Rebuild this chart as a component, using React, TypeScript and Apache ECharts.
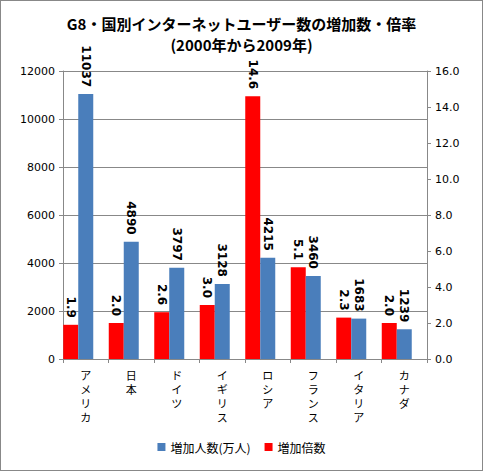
import * as echarts from 'echarts'
import { useEffect, useRef } from 'react'

const countries = ['アメリカ', '日本', 'ドイツ', 'イギリス', 'ロシア', 'フランス', 'イタリア', 'カナダ']
const increaseUsers = [11037, 4890, 3797, 3128, 4215, 3460, 1683, 1239]
const increaseRatio = [1.9, 2.0, 2.6, 3.0, 14.6, 5.1, 2.3, 2.0]
// empty third slot: keeps red+blue pair at the left of each category like the original
const spacer = [null, null, null, null, null, null, null, null]

const FONT = '"Noto Sans CJK JP", "Noto Sans", sans-serif'
const NUM_FONT = '"DejaVu Sans", Verdana, sans-serif'

export default function App() {
  const chartRef = useRef<HTMLDivElement>(null)

  useEffect(() => {
    if (!chartRef.current) return
    const chart = echarts.init(chartRef.current, null, { renderer: 'svg' })

    const barLabel = {
      show: true,
      position: 'top',
      rotate: -90,
      align: 'right',
      verticalAlign: 'middle',
      distance: 7,
      color: '#000',
      fontWeight: 'bold',
      fontSize: 12,
      fontFamily: NUM_FONT
    }

    const option: any = {
      animation: false,
      backgroundColor: '#fff',
      title: {
        text: 'G8・国別インターネットユーザー数の増加数・倍率\n(2000年から2009年)',
        left: 'center',
        top: 7,
        textStyle: {
          fontFamily: FONT,
          fontSize: 15,
          fontWeight: 'bold',
          color: '#000',
          lineHeight: 21
        }
      },
      legend: {
        bottom: 12,
        left: 'center',
        data: ['増加人数(万人)', '増加倍数'],
        itemWidth: 8,
        itemHeight: 8,
        itemGap: 14,
        icon: 'rect',
        textStyle: { fontFamily: FONT, fontSize: 12, color: '#000' }
      },
      grid: { left: 62, right: 55, top: 70, bottom: 111 },
      xAxis: {
        type: 'category',
        data: countries,
        axisLine: { lineStyle: { color: '#888' } },
        axisTick: { show: true, length: 4, lineStyle: { color: '#888' } },
        axisLabel: {
          interval: 0,
          margin: 10,
          fontFamily: '"DejaVu Sans", "Noto Sans CJK JP", sans-serif',
          fontSize: 11,
          lineHeight: 14,
          color: '#000',
          verticalAlign: 'top',
          formatter: (v: string) => v.split('').join('\n')
        }
      },
      yAxis: [
        {
          type: 'value',
          min: 0,
          max: 12000,
          interval: 2000,
          axisLine: { show: true, lineStyle: { color: '#888' } },
          axisTick: { show: true, length: 4, lineStyle: { color: '#888' } },
          splitLine: { lineStyle: { color: '#888' } },
          axisLabel: {
            fontFamily: NUM_FONT,
            fontSize: 11,
            color: '#000',
            margin: 8,
            formatter: (v: number) => String(v)
          }
        },
        {
          type: 'value',
          min: 0,
          max: 16,
          interval: 2,
          position: 'right',
          axisLine: { show: true, lineStyle: { color: '#888' } },
          axisTick: { show: true, length: 4, lineStyle: { color: '#888' } },
          splitLine: { show: false },
          axisLabel: {
            fontFamily: NUM_FONT,
            fontSize: 11,
            color: '#000',
            margin: 8,
            formatter: (v: number) => v.toFixed(1)
          }
        }
      ],
      series: [
        {
          name: '増加倍数',
          type: 'bar',
          yAxisIndex: 1,
          data: increaseRatio,
          barWidth: 15,
          barGap: '0%',
          itemStyle: { color: '#FF0000' },
          label: { ...barLabel, formatter: (p: any) => p.value.toFixed(1) }
        },
        {
          name: '増加人数(万人)',
          type: 'bar',
          yAxisIndex: 0,
          data: increaseUsers,
          barWidth: 15,
          barGap: '0%',
          itemStyle: { color: '#4A7EBB' },
          label: barLabel
        },
        {
          name: 'spacer',
          type: 'bar',
          yAxisIndex: 0,
          data: spacer,
          barWidth: 15,
          barGap: '0%',
          silent: true
        }
      ]
    }

    chart.setOption(option)
    return () => {
      chart.dispose()
    }
  }, [])

  return (
    <div
      style={{
        position: 'absolute',
        left: 0,
        top: 0,
        width: 481,
        height: 469,
        border: '1px solid #888'
      }}
    >
      <div ref={chartRef} style={{ width: 481, height: 469 }} />
    </div>
  )
}
